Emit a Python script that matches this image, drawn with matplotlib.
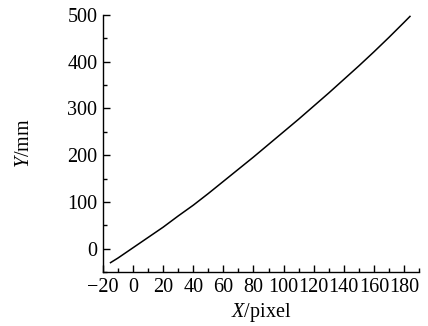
import matplotlib
matplotlib.use("Agg")
import matplotlib.pyplot as plt
from matplotlib.ticker import MultipleLocator

# values
x_pixel = [-15, -10, 0, 10, 20, 30, 40, 50, 60, 70, 80, 90, 100,
           110, 120, 130, 140, 150, 160, 170, 180, 184]
y_mm = [-30, -20, 2, 24, 46, 70, 93, 118, 144, 170, 196, 223, 250,
        277, 305, 333, 362, 391, 421, 452, 484, 497]

plt.rcParams['font.family'] = ['Liberation Serif', 'DejaVu Serif']
plt.rcParams['mathtext.fontset'] = 'custom'
plt.rcParams['mathtext.it'] = 'Liberation Serif:italic'
plt.rcParams['mathtext.rm'] = 'Liberation Serif'

fig = plt.figure(figsize=(4.28, 3.26), dpi=100)
ax = fig.add_axes([103 / 428, 1 - 272 / 326, 316 / 428, 257 / 326])

ax.plot(x_pixel, y_mm, color='black', linewidth=1.1)

ax.set_xlim(-20, 190)
ax.set_ylim(-50, 500)
ax.xaxis.set_major_locator(MultipleLocator(20))
ax.xaxis.set_minor_locator(MultipleLocator(10))
ax.yaxis.set_major_locator(MultipleLocator(100))
ax.yaxis.set_minor_locator(MultipleLocator(50))

ax.spines['top'].set_visible(False)
ax.spines['right'].set_visible(False)
for s in ['left', 'bottom']:
    ax.spines[s].set_linewidth(1.0)

ax.tick_params(which='major', direction='in', length=5, width=1.0, labelsize=14.5, pad=4)
ax.tick_params(which='minor', direction='in', length=3, width=1.0)
ax.set_xticks(range(-20, 181, 20))
ax.set_xticklabels(['\u221220'] + [str(v) for v in range(0, 181, 20)])

ax.set_xlabel('$X$/pixel', fontsize=14.5, labelpad=3)
ax.set_ylabel('$Y$/mm', fontsize=14.5, labelpad=24)

fig.savefig('out.png', dpi=100)
